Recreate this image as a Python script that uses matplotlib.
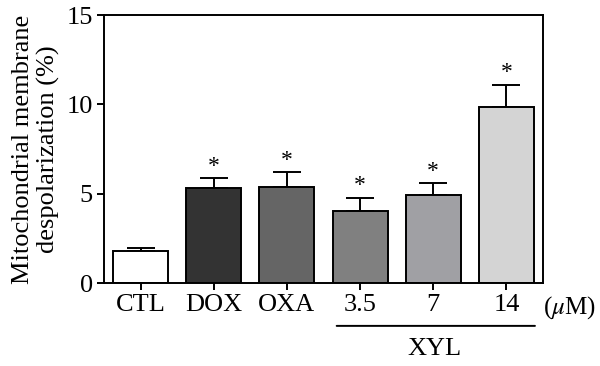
import numpy as np
import matplotlib.pyplot as plt

plt.rcParams['font.family'] = ['Liberation Serif', 'DejaVu Serif']
plt.rcParams['mathtext.fontset'] = 'stix'

# data
groups = ['CTL', 'DOX', 'OXA', '3.5', '7', '14']
means = [1.81, 5.33, 5.35, 4.03, 4.94, 9.85]
errors = [0.13, 0.53, 0.84, 0.74, 0.64, 1.23]
significant = [False, True, True, True, True, True]
colors = ['#ffffff', '#333333', '#656565', '#808080', '#a0a0a4', '#d4d4d4']

fig = plt.figure(figsize=(6, 3.66), dpi=100)
ax = fig.add_axes([104 / 600, 1 - 283 / 366, 439 / 600, 268 / 366])

x = np.arange(len(groups))
ax.bar(x, means, width=0.75, color=colors, edgecolor='black', linewidth=1.4, zorder=2)
ax.errorbar(x, means, yerr=[np.zeros(len(errors)), errors], fmt='none',
            ecolor='black', elinewidth=1.4, capsize=10, capthick=1.4, zorder=1)

for xi, m, e, s in zip(x, means, errors, significant):
    if s:
        ax.text(xi, m + e + 0.1, '*', ha='center', va='bottom', fontsize=17)

ax.set_xlim(-0.5, 5.5)
ax.set_ylim(0, 15)
ax.set_yticks([0, 5, 10, 15])
ax.set_xticks(x)
ax.set_xticklabels(groups)
ax.tick_params(axis='both', labelsize=19, width=1.4, length=5, direction='out', pad=3)
for sp in ax.spines.values():
    sp.set_linewidth(1.4)

ax.set_ylabel('Mitochondrial membrane\ndespolarization (%)', fontsize=19, linespacing=1.15)
ax.yaxis.set_label_coords(-0.10, 0.5)

# concentration unit and XYL group bracket
xt = ax.get_xaxis_transform()
ax.annotate('($\\mu$M)', xy=(5.5, 0), xycoords=xt, xytext=(0, -8), textcoords='offset points',
            ha='left', va='top', fontsize=18)
ax.annotate('', xy=(2.68, -0.16), xytext=(5.39, -0.16), xycoords=xt,
            arrowprops=dict(arrowstyle='-', lw=1.4, color='black', shrinkA=0, shrinkB=0))
ax.text(4.02, -0.205, 'XYL', transform=xt, ha='center', va='top', fontsize=19)

fig.savefig('out.png', dpi=100)
